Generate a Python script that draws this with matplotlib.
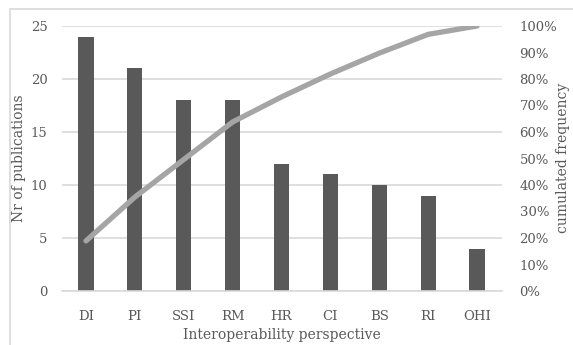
import matplotlib
matplotlib.use("Agg")
import matplotlib.pyplot as plt
from matplotlib.patches import Rectangle

categories = ["DI", "PI", "SSI", "RM", "HR", "CI", "BS", "RI", "OHI"]
publications = [24, 21, 18, 18, 12, 11, 10, 9, 4]

# cumulated share in percent
total = sum(publications)
cumulated = []
run = 0
for v in publications:
    run += v
    cumulated.append(run / total * 100)

plt.rcParams['font.family'] = ['DejaVu Serif']
txt = '#595959'
grid = '#D9D9D9'

fig = plt.figure(figsize=(5.73, 3.45), dpi=100)
ax = fig.add_axes([61.5/573, 1 - 291/345, 440/573, 265/345])
x = list(range(len(categories)))
ax.bar(x, publications, width=0.31, color='#595959', zorder=2)
ax.set_xlim(-0.5, len(categories) - 0.5)
ax.set_ylim(0, 25)
ax.set_yticks([0, 5, 10, 15, 20, 25])
ax.yaxis.grid(True, color=grid, linewidth=1.2, zorder=0)
ax.set_xticks(x)
ax.set_xticklabels(categories)
ax.tick_params(length=0, colors=txt, labelsize=9.5, pad=10)
ax.tick_params(axis='x', pad=14)
for s in ['top', 'right', 'left']:
    ax.spines[s].set_visible(False)
ax.spines['bottom'].set_color(grid)
ax.spines['bottom'].set_linewidth(1.2)
fig.text(19/573, 1 - 158/345, "Nr of publications", rotation=90, color=txt,
         fontsize=10, ha='center', va='center')
ax.set_xlabel("Interoperability perspective", color=txt, fontsize=10, labelpad=3)

ax2 = ax.twinx()
ax2.plot(x, cumulated, color='#A5A5A5', linewidth=3.8, solid_capstyle='round', zorder=3)
ax2.set_ylim(0, 100)
ax2.set_yticks(range(0, 101, 10))
ax2.set_yticklabels([f"{t}%" for t in range(0, 101, 10)])
ax2.tick_params(length=0, colors=txt, labelsize=9.5, pad=13)
for s in ['top', 'right', 'left', 'bottom']:
    ax2.spines[s].set_visible(False)
fig.text(563/573, 1 - 158/345, "cumulated frequency", rotation=90, color=txt,
         fontsize=10, ha='center', va='center')

fig.patches.append(Rectangle((10/573, -0.1), 1.2, 1 - 9/345 + 0.1, transform=fig.transFigure,
                             fill=False, edgecolor='#D9D9D9', linewidth=1.2))

fig.savefig("out.png", dpi=100)
